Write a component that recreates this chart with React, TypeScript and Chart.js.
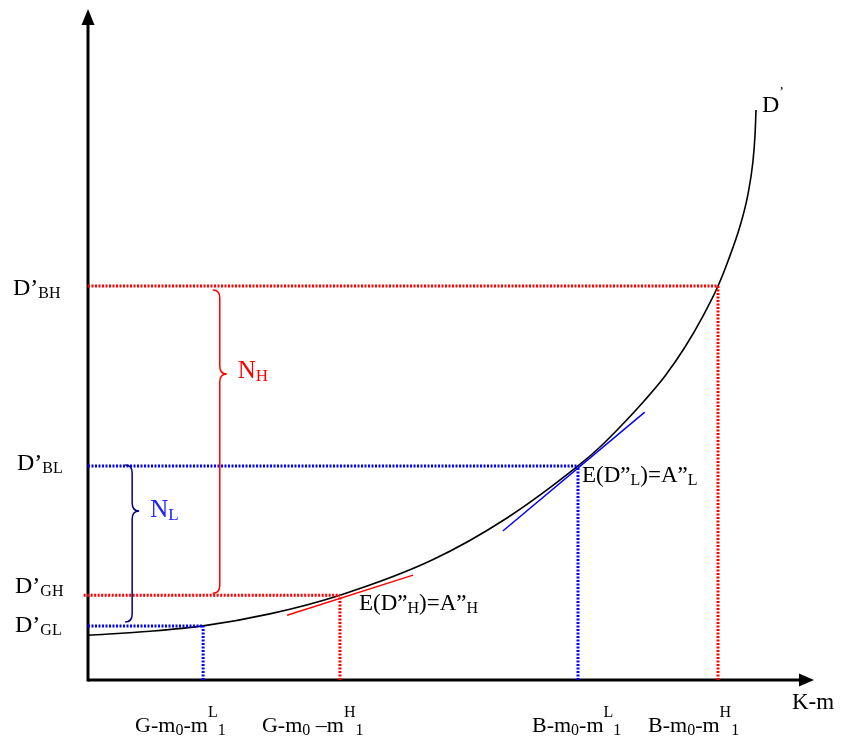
import React, { useEffect, useRef } from "react";
import { Chart, registerables } from "chart.js";

Chart.register(...registerables);

// ---- data (abstract units: x 0..100, y 0..100) ----
const curveX = [0, 8.6, 15.9, 25.1, 34.8, 47.6, 57.87, 67.68, 70.72, 73.48, 76.93, 79.7, 82.46, 84.94, 87.02, 88.4, 90.06, 91.16, 91.85, 92.13, 92.27];
const curveY = [6.7, 7.3, 8.1, 9.9, 12.7, 18.0, 24.25, 32.04, 34.88, 37.87, 41.92, 45.51, 49.85, 54.49, 58.98, 62.72, 67.96, 72.75, 77.69, 81.59, 85.33];

// equilibrium points: GL, GH, BL, BH
const levelKeys = ["GL", "GH", "BL", "BH"];
const levelX = [15.9, 34.8, 67.68, 87.02];
const levelY = [8.1, 12.7, 32.04, 58.98];
const levelColors = ["#0000ff", "#ff0000", "#0000ff", "#ff0000"];

// tangent lines [x0, y0, x1, y1]
const tangentH = [27.5, 9.7, 44.9, 15.7];
const tangentL = [57.3, 22.3, 76.9, 40.1];

// braces: x, top, middle, bottom
const braceH = [18.2, 58.4, 45.8, 13.0];
const braceL = [6.1, 32.2, 25.3, 8.7];

type Part = [string, "n" | "sub" | "sup"];
const yTickLabels: Part[][] = [
  [["D’", "n"], ["GL", "sub"]],
  [["D’", "n"], ["GH", "sub"]],
  [["D’", "n"], ["BL", "sub"]],
  [["D’", "n"], ["BH", "sub"]],
];
const xTickLabels: Part[][] = [
  [["G-m", "n"], ["0", "sub"], ["-m", "n"], ["L", "sup"], ["1", "sub"]],
  [["G-m", "n"], ["0", "sub"], [" –m", "n"], ["H", "sup"], ["1", "sub"]],
  [["B-m", "n"], ["0", "sub"], ["-m", "n"], ["L", "sup"], ["1", "sub"]],
  [["B-m", "n"], ["0", "sub"], ["-m", "n"], ["H", "sup"], ["1", "sub"]],
];
const eqLabelH: Part[] = [["E(D”", "n"], ["H", "sub"], [")=A”", "n"], ["H", "sub"]];
const eqLabelL: Part[] = [["E(D”", "n"], ["L", "sub"], [")=A”", "n"], ["L", "sub"]];
const nLabelH: Part[] = [["N", "n"], ["H", "sub"]];
const nLabelL: Part[] = [["N", "n"], ["L", "sub"]];
const curveLabel: Part[] = [["D", "n"], ["’", "sup"]];
const xAxisTitle = "K-m";

const FONT = '"Liberation Serif", "Times New Roman", serif';

function drawRich(ctx: CanvasRenderingContext2D, x: number, y: number, parts: Part[], base: number, small: number, color: string) {
  let cx = x;
  ctx.fillStyle = color;
  ctx.textBaseline = "alphabetic";
  ctx.textAlign = "left";
  for (const [t, k] of parts) {
    const size = k === "n" ? base : small;
    const dy = k === "sub" ? 3 : k === "sup" ? -15 : 0;
    ctx.font = `${size}px ${FONT}`;
    ctx.fillText(t, cx, y + dy);
    cx += ctx.measureText(t).width;
  }
}

function drawBrace(ctx: CanvasRenderingContext2D, xs: any, ys: any, b: number[], color: string) {
  const x = xs.getPixelForValue(b[0]);
  const top = ys.getPixelForValue(b[1]);
  const mid = ys.getPixelForValue(b[2]);
  const bot = ys.getPixelForValue(b[3]);
  const w = 7;
  const r = 8;
  ctx.save();
  ctx.strokeStyle = color;
  ctx.lineWidth = 1.5;
  ctx.beginPath();
  ctx.moveTo(x - w, top);
  ctx.quadraticCurveTo(x, top, x, top + r);
  ctx.lineTo(x, mid - r);
  ctx.quadraticCurveTo(x, mid, x + w, mid);
  ctx.quadraticCurveTo(x, mid, x, mid + r);
  ctx.lineTo(x, bot - r);
  ctx.quadraticCurveTo(x, bot, x - w, bot);
  ctx.stroke();
  ctx.restore();
}

const diagramPlugin = {
  id: "diagram",
  beforeDatasetsDraw(chart: any) {
    const ctx: CanvasRenderingContext2D = chart.ctx;
    const xs = chart.scales.x;
    const ys = chart.scales.y;
    const x0 = xs.getPixelForValue(0);
    const y0 = ys.getPixelForValue(0);
    ctx.save();
    ctx.strokeStyle = "#000";
    ctx.fillStyle = "#000";
    ctx.lineWidth = 3;
    // y axis
    ctx.beginPath();
    ctx.moveTo(x0, y0 + 1.5);
    ctx.lineTo(x0, 22);
    ctx.stroke();
    ctx.beginPath();
    ctx.moveTo(x0, 9);
    ctx.lineTo(x0 - 6.5, 25);
    ctx.lineTo(x0 + 6.5, 25);
    ctx.closePath();
    ctx.fill();
    // x axis
    ctx.beginPath();
    ctx.moveTo(x0, y0);
    ctx.lineTo(802, y0);
    ctx.stroke();
    ctx.beginPath();
    ctx.moveTo(814, y0);
    ctx.lineTo(799, y0 - 6.5);
    ctx.lineTo(799, y0 + 6.5);
    ctx.closePath();
    ctx.fill();
    ctx.restore();
  },
  afterDatasetsDraw(chart: any) {
    const ctx: CanvasRenderingContext2D = chart.ctx;
    const xs = chart.scales.x;
    const ys = chart.scales.y;
    ctx.save();
    drawBrace(ctx, xs, ys, braceH, "#ff0000");
    drawBrace(ctx, xs, ys, braceL, "#000080");

    // y-level labels
    const yOff = [6, -2, 4, 9];
    const yLeft = [15, 15, 17, 13];
    yTickLabels.forEach((p, i) => {
      drawRich(ctx, yLeft[i], ys.getPixelForValue(levelY[i]) + yOff[i], p, 24, 16, "#000");
    });
    // x-level labels
    const xOff = [-68, -78, -46, -70];
    xTickLabels.forEach((p, i) => {
      drawRich(ctx, xs.getPixelForValue(levelX[i]) + xOff[i], 732, p, 22, 16, "#000");
    });
    // equilibrium labels
    drawRich(ctx, xs.getPixelForValue(levelX[1]) + 19, ys.getPixelForValue(levelY[1]) + 15, eqLabelH, 23, 16, "#000");
    drawRich(ctx, xs.getPixelForValue(levelX[2]) + 4, ys.getPixelForValue(levelY[2]) + 16, eqLabelL, 23, 16, "#000");
    // N labels
    drawRich(ctx, xs.getPixelForValue(braceH[0]) + 18, ys.getPixelForValue(braceH[2]) + 4, nLabelH, 25, 17, "#ff0000");
    drawRich(ctx, xs.getPixelForValue(braceL[0]) + 18, ys.getPixelForValue(braceL[2]) + 6, nLabelL, 25, 17, "#2020ff");
    // curve label
    const n = curveX.length - 1;
    drawRich(ctx, xs.getPixelForValue(curveX[n]) + 6, ys.getPixelForValue(curveY[n]) + 2, curveLabel, 24, 14, "#000");
    // axis title
    ctx.font = `23px ${FONT}`;
    ctx.fillStyle = "#000";
    ctx.fillText(xAxisTitle, 792, 709);
    ctx.restore();
  },
};

export default function App() {
  const ref = useRef<HTMLCanvasElement>(null);
  useEffect(() => {
    if (!ref.current) return;
    const dotted = { borderWidth: 3, borderDash: [2, 1.5], pointRadius: 0, showLine: true, fill: false };
    const datasets: any[] = [];
    // horizontal dotted lines
    levelKeys.forEach((k, i) => {
      datasets.push({
        ...dotted,
        label: "h" + k,
        data: [{ x: k === "GH" ? -0.6 : 0, y: levelY[i] }, { x: levelX[i], y: levelY[i] }],
        borderColor: levelColors[i],
        clip: false,
      });
    });
    // vertical dotted lines
    levelKeys.forEach((k, i) => {
      datasets.push({
        ...dotted,
        label: "v" + k,
        data: [{ x: levelX[i], y: 0 }, { x: levelX[i], y: levelY[i] }],
        borderColor: levelColors[i],
      });
    });
    datasets.push({
      label: "tangentH",
      data: [{ x: tangentH[0], y: tangentH[1] }, { x: tangentH[2], y: tangentH[3] }],
      borderColor: "#ff0000",
      borderWidth: 1.5,
      pointRadius: 0,
      showLine: true,
    });
    datasets.push({
      label: "tangentL",
      data: [{ x: tangentL[0], y: tangentL[1] }, { x: tangentL[2], y: tangentL[3] }],
      borderColor: "#0000ff",
      borderWidth: 1.5,
      pointRadius: 0,
      showLine: true,
    });
    datasets.push({
      label: "D'",
      data: curveX.map((x, i) => ({ x, y: curveY[i] })),
      borderColor: "#000",
      borderWidth: 1.6,
      pointRadius: 0,
      showLine: true,
      cubicInterpolationMode: "monotone",
      clip: false,
    });
    const chart = new Chart(ref.current, {
      type: "scatter",
      data: { datasets },
      options: {
        animation: false,
        responsive: true,
        maintainAspectRatio: false,
        layout: { padding: { left: 88, right: 30, top: 12, bottom: 62 } },
        plugins: { legend: { display: false }, tooltip: { enabled: false } },
        scales: {
          x: { type: "linear", min: 0, max: 100, display: false },
          y: { type: "linear", min: 0, max: 100, display: false },
        },
      },
      plugins: [diagramPlugin],
    });
    return () => chart.destroy();
  }, []);
  return (
    <div style={{ position: "absolute", left: 0, top: 0, width: 842, height: 742, background: "#fff" }}>
      <canvas ref={ref} />
    </div>
  );
}
